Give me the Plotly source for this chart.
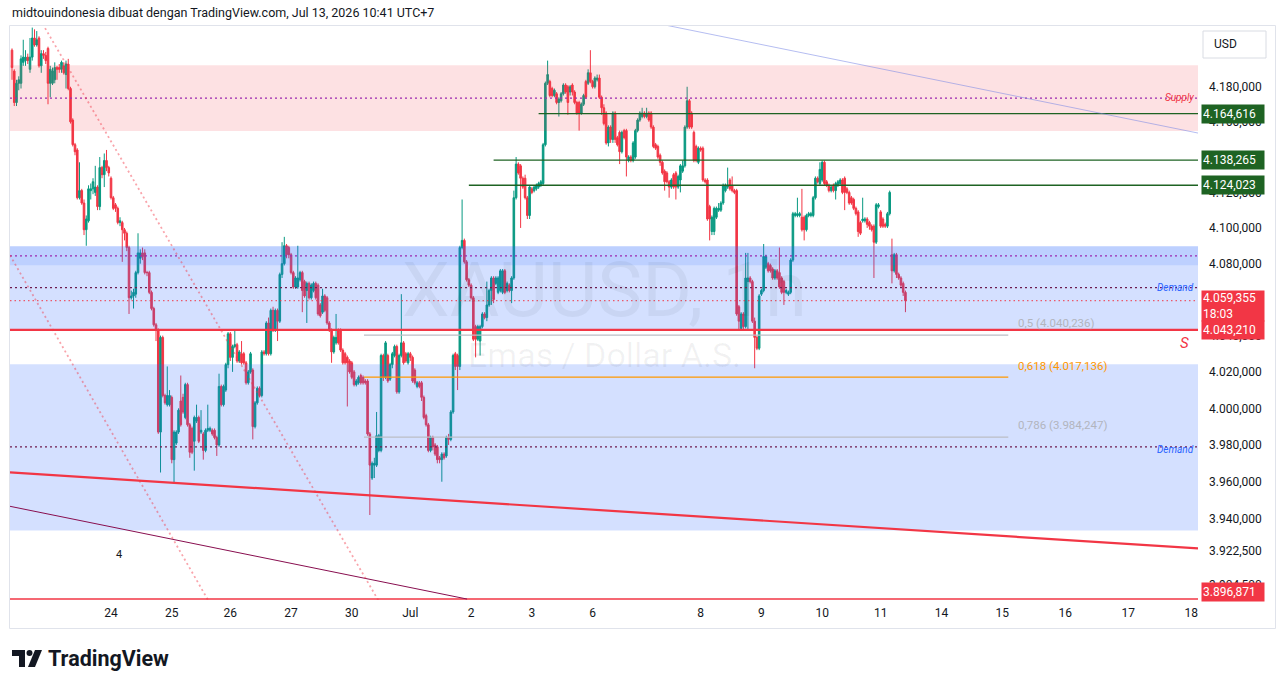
import math
import plotly.graph_objects as go

# ---------------- data ----------------
open_ = [4201,4189,4171,4182,4182,4194,4195,4197,4190,4197,4208,4204,4208,4192,4199,4198,
4202,4182,4182,4184,4191,4191,4190,4192,4187,4193,4179,4161,4147,4144,4117,4121,4114,4099,4104,4121,4122,
4120,4123,4112,4134,4130,4138,4134,4128,4117,4113,4111,4103,
4103,4099,4097,4089,4061,4062,4063,4075,4083,4086,4086,4075,4075,4064,4055,4046,4043,
3987,4039,4007,4002,4002,4006,3972,3981,3987,4004,4006,3995,4013,3991,3989,3982,3993,3995,3987,3986,
3977,3988,3988,3988,3988,3984,3980,4012,4002,4010,4024,4041,4028,4034,4035,4026,4030,4030,4025,4014,
4020,4021,3990,4003,4011,4007,4031,4030,4047,4030,4054,4043,4054,4048,4074,4080,4090,4089,4085,4075,
4067,4067,4071,4075,4070,4065,4069,4061,4065,4069,4068,4057,4053,4062,4061,4047,4043,4031,4036,4043,
4043,4032,4030,4028,4026,4025,4020,4013,4014,4018,4017,4015,4015,3986,3962,3969,3969,3977,3977,4029,
4017,4029,4016,4024,4029,4034,4009,4029,4036,4030,4025,4030,4028,4021,4012,4014,4014,4006,3996,3991,
3977,3984,3980,3979,3973,3972,3975,3974,3984,3983,3998,4030,4029,4023,4089,4093,4081,4071,4068,4061,
4045,4038,4037,4045,4052,4050,4057,4065,4072,4069,4064,4065,4064,4076,4065,4068,4065,4072,4117,4136,
4135,4128,4128,4117,4107,4122,4121,4122,4123,4124,4125,4147,4182,4183,4179,4175,4176,4171,4172,4176,
4181,4180,4177,4181,4177,4171,4171,4165,4170,4183,4182,4188,4183,4180,4184,4185,4174,4168,4165,4148,
4157,4150,4165,4151,4154,4143,4155,4155,4138,4140,4138,4140,4155,4161,4163,4165,4163,4165,4165,4157,
4147,4146,4141,4137,4132,4131,4126,4123,4130,4131,4123,4127,4132,4135,4157,4172,4165,4154,4146,4137,
4145,4145,4127,4127,4112,4098,4098,4106,4110,4110,4114,4121,4123,4127,4124,4121,4121,4056,4044,4052,
4045,4070,4072,4070,4048,4039,4033,4063,4065,4078,4080,4079,4077,4072,4076,4075,4072,4070,4064,4063,
4064,4082,4107,4107,4107,4106,4106,4099,4107,4107,4107,4117,4128,4125,4127,4137,4126,4124,4121,4124,
4121,4124,4125,4127,4128,4122,4120,4117,4116,4111,4109,4103,4104,4104,4105,4103,4101,4101,4092,4112,
4109,4105,4102,4101,4108,4085,4076,4085,4074,4072,4069,4064]
high_ = [4202,4190,4184,4186,4198,4207,4201,4199,4208,4214,4213,4212,4209,4201,4201,4200,
4203,4192,4191,4194,4192,4193,4195,4194,4195,4196,4180,4162,4148,4145,4137,4122,4116,4107,4124,4125,4128,
4135,4124,4140,4135,4142,4144,4135,4129,4118,4114,4112,4106,
4104,4100,4098,4090,4065,4066,4076,4097,4088,4089,4088,4076,4076,4065,4056,4047,4044,
4040,4040,4008,4023,4010,4007,3988,3988,4000,4018,4008,4014,4014,3992,3990,3996,4002,3996,3999,3987,
3989,4002,3990,3989,3989,3985,4019,4013,4013,4025,4042,4042,4035,4043,4036,4032,4037,4031,4026,4021,
4031,4022,4004,4012,4012,4032,4032,4048,4050,4055,4056,4055,4055,4075,4092,4095,4091,4090,4086,4076,
4073,4090,4076,4076,4071,4070,4070,4069,4070,4070,4069,4058,4066,4063,4062,4048,4044,4040,4052,4044,
4044,4033,4031,4029,4027,4026,4021,4016,4018,4019,4018,4016,4016,3987,3971,3973,3998,3986,4030,4030,
4037,4030,4025,4031,4035,4035,4030,4063,4037,4031,4031,4031,4029,4022,4015,4015,4015,4007,3997,3992,
3985,3985,3981,3980,3974,3976,3976,3985,3986,3999,4030,4031,4030,4090,4116,4094,4082,4072,4069,4062,
4046,4046,4046,4053,4053,4070,4066,4073,4073,4073,4073,4077,4077,4077,4070,4069,4073,4121,4140,4137,
4136,4129,4130,4118,4124,4123,4124,4125,4126,4127,4148,4183,4195,4184,4180,4179,4177,4174,4177,4182,
4182,4181,4181,4182,4178,4172,4172,4171,4176,4184,4190,4201,4184,4186,4187,4187,4175,4170,4166,4158,
4158,4166,4166,4152,4155,4155,4156,4156,4141,4141,4149,4156,4162,4166,4168,4166,4168,4166,4166,4158,
4148,4147,4142,4138,4133,4132,4127,4128,4131,4132,4130,4136,4138,4158,4180,4173,4166,4155,4147,4146,
4146,4146,4128,4128,4113,4107,4112,4112,4114,4115,4125,4125,4134,4128,4129,4122,4122,4057,4053,4053,
4086,4086,4073,4071,4050,4040,4063,4066,4091,4085,4081,4080,4078,4077,4077,4089,4073,4071,4066,4065,
4083,4109,4109,4117,4109,4122,4107,4108,4109,4109,4118,4129,4129,4137,4138,4138,4127,4125,4124,4125,
4126,4127,4128,4128,4129,4123,4121,4118,4117,4112,4110,4104,4117,4106,4106,4104,4102,4102,4114,4114,
4110,4106,4103,4109,4121,4094,4086,4086,4075,4073,4070,4065]
low_ = [4184,4169,4169,4178,4179,4192,4192,4193,4188,4195,4203,4203,4191,4188,4196,4193,
4170,4174,4181,4182,4184,4188,4188,4187,4179,4178,4159,4146,4141,4116,4116,4113,4096,4090,4103,4116,4119,
4118,4110,4110,4128,4123,4132,4129,4116,4110,4109,4102,4101,
4081,4093,4087,4052,4060,4055,4061,4074,4080,4082,4074,4073,4063,4054,4045,4037,3986,
3965,4006,4002,4001,4001,3970,3959,3980,3986,3990,3997,3994,3990,3973,3975,3966,3992,3981,3986,3972,
3976,3987,3987,3985,3983,3974,3979,4001,4001,4009,4022,4026,4020,4033,4025,4025,4024,4024,4013,4013,
4019,3983,3989,4002,4006,4006,4029,4029,4029,4029,4042,4042,4037,4047,4072,4079,4083,4083,4074,4066,
4066,4066,4070,4053,4061,4047,4060,4060,4064,4060,4051,4050,4052,4053,4046,4042,4025,4030,4035,4035,
4031,4024,4024,4001,4019,4016,4012,4012,4013,4013,4013,4013,3985,3942,3961,3962,3968,3976,3976,4015,
4016,4014,4015,4022,4028,4008,4008,4028,4024,4025,4024,4026,4014,4013,4011,4011,4004,3994,3990,3976,
3976,3977,3974,3970,3970,3960,3972,3973,3980,3982,3997,4021,4010,4021,4088,4080,4070,4067,4060,4037,
4028,4037,4029,4044,4049,4048,4056,4057,4058,4068,4063,4064,4063,4063,4064,4064,4058,4071,4116,4130,
4100,4122,4116,4105,4105,4119,4120,4121,4122,4123,4124,4146,4181,4174,4174,4174,4170,4163,4171,4175,
4176,4164,4175,4175,4170,4164,4155,4164,4169,4173,4181,4182,4179,4179,4183,4173,4164,4158,4147,4146,
4148,4148,4148,4146,4136,4142,4150,4129,4137,4137,4137,4139,4154,4160,4162,4162,4162,4160,4156,4145,
4144,4139,4135,4130,4121,4125,4117,4122,4122,4116,4122,4120,4131,4134,4156,4156,4156,4137,4137,4136,
4143,4126,4125,4104,4093,4096,4096,4105,4109,4109,4113,4120,4122,4121,4120,4119,4051,4043,4043,4043,
4044,4043,4069,4047,4022,4032,4032,4062,4064,4077,4075,4075,4071,4071,4071,4066,4063,4057,4063,4062,
4063,4081,4106,4106,4106,4098,4093,4098,4106,4106,4106,4116,4125,4124,4126,4124,4123,4120,4120,4120,
4116,4123,4124,4119,4110,4119,4113,4113,4110,4107,4095,4096,4103,4103,4100,4099,4098,4072,4091,4111,
4100,4100,4100,4100,4107,4069,4075,4072,4071,4067,4062,4053]
close_ = [4191,4171,4182,4184,4196,4197,4197,4195,4197,4208,4204,4207,4192,4199,4198,4195,
4182,4190,4189,4191,4190,4190,4194,4188,4193,4179,4160,4147,4143,4117,4121,4114,4099,4105,4122,4122,4126,
4123,4112,4134,4130,4138,4134,4131,4117,4111,4111,4103,4104,
4099,4097,4089,4061,4062,4064,4075,4086,4086,4084,4075,4075,4064,4055,4046,4043,3987,
4039,4007,4003,4007,4007,3972,3987,3987,3999,3991,3998,4013,3991,3976,3976,3995,3995,3982,3988,3977,
3988,3989,3989,3986,3984,3980,4012,4002,4012,4024,4041,4028,4034,4035,4026,4031,4025,4025,4014,4020,
4030,3990,4003,4011,4007,4031,4030,4047,4030,4054,4043,4054,4048,4074,4080,4090,4085,4085,4075,4067,
4072,4072,4075,4065,4062,4069,4061,4068,4069,4061,4052,4051,4062,4054,4047,4043,4031,4039,4039,4036,
4032,4025,4025,4025,4020,4017,4013,4015,4017,4014,4014,4014,3986,3969,3970,3970,3985,3985,4029,4017,
4036,4015,4024,4030,4034,4009,4029,4036,4025,4026,4030,4028,4015,4014,4014,4012,4006,3995,3991,3977,
3984,3979,3975,3972,3972,3975,3973,3984,3983,3998,4029,4023,4023,4089,4093,4081,4071,4068,4061,4038,
4038,4045,4045,4052,4050,4057,4065,4072,4060,4072,4072,4076,4076,4064,4069,4065,4072,4117,4136,4131,
4128,4123,4117,4107,4123,4120,4123,4124,4125,4126,4147,4182,4187,4175,4175,4178,4171,4173,4176,4181,
4177,4171,4180,4177,4171,4165,4165,4170,4175,4174,4188,4183,4180,4185,4185,4174,4168,4159,4148,4157,
4150,4165,4150,4147,4143,4154,4151,4140,4140,4138,4148,4155,4161,4165,4165,4163,4165,4161,4157,4146,
4145,4140,4137,4131,4126,4126,4123,4127,4123,4123,4129,4135,4135,4157,4172,4157,4157,4138,4138,4145,
4144,4127,4126,4105,4105,4106,4111,4111,4111,4114,4124,4124,4124,4122,4121,4120,4052,4048,4052,4045,
4072,4072,4070,4048,4039,4033,4062,4065,4084,4084,4076,4076,4072,4076,4072,4067,4064,4064,4065,4064,
4082,4108,4108,4108,4108,4099,4099,4107,4108,4108,4117,4128,4126,4133,4137,4125,4124,4121,4123,4121,
4125,4126,4127,4120,4120,4120,4114,4114,4111,4108,4098,4097,4105,4105,4102,4101,4099,4092,4113,4113,
4101,4101,4101,4108,4120,4076,4085,4074,4072,4068,4064,4059.355]

day_labels = ["24", "25", "26", "27", "30", "Jul", "2", "3", "6", "8", "9", "10", "11",
              "14", "15", "16", "17", "18"]
day_start = [44, 71, 97, 124, 151, 177, 204, 231, 258, 306, 333, 360, 386, 413, 440, 468, 496, 524]

price_ticks = [4180, 4160, 4140, 4120, 4100, 4080, 4060, 4040, 4020, 4000, 3980, 3960, 3940, 3922.5, 3904.5]

supply_zone = (4154.7, 4192.4)
demand_small = (4079.1, 4089.7)
demand_upper = (4043.6, 4089.7)
demand_lower = (3933.7, 4024.2)
resist_levels = [4164.616, 4138.265, 4124.023]
resist_start = [234, 214, 203]
sr_level = 4043.210
low_level = 3896.871
fib_ratio = ["0,5", "0,618", "0,786"]
fib_price = [4040.236, 4017.136, 3984.247]
fib_span = (156.4, 442.7)

# ---------------- geometry / style ----------------
W, H = 1281, 688
PL, PR, PT, PB = 10, 1198, 25, 600
X_RANGE = [-0.889, 527.0]
Y_MIN, Y_MAX = 3896.4, 4215.5
UP, DOWN = "#089981", "#F23645"
TXT = "#131722"
FONT = "Roboto"


def xp(px):
    return (px - PL) / (PR - PL)


def yp(py):
    return (PB - py) / (PB - PT)


def fmt(v):
    s = f"{v:,.3f}"
    return s.replace(",", "X").replace(".", ",").replace("X", ".")


fig = go.Figure()
fig.add_trace(go.Candlestick(
    x=list(range(len(close_))), open=open_, high=high_, low=low_, close=close_,
    increasing=dict(line=dict(color=UP, width=1), fillcolor=UP),
    decreasing=dict(line=dict(color=DOWN, width=1), fillcolor=DOWN),
    whiskerwidth=0, hoverinfo="skip", showlegend=False,
))

shapes = []
DOTS = "2px,3px"


def hline(y, color, width=1, dash="solid", x0=None, x1=None, layer="above"):
    if x0 is None:
        shapes.append(dict(type="line", xref="paper", yref="y", x0=0, x1=1, y0=y, y1=y,
                           line=dict(color=color, width=width, dash=dash), layer=layer))
    else:
        shapes.append(dict(type="line", xref="x", yref="y", x0=x0, x1=x1, y0=y, y1=y,
                           line=dict(color=color, width=width, dash=dash), layer=layer))


def zone(lo, hi, color):
    shapes.append(dict(type="rect", xref="paper", yref="y", x0=0, x1=1, y0=lo, y1=hi,
                       fillcolor=color, line=dict(width=0), layer="above"))


zone(*supply_zone, "rgba(242,54,69,0.15)")
zone(*demand_small, "rgba(41,98,255,0.13)")
zone(*demand_upper, "rgba(41,98,255,0.2)")
zone(*demand_lower, "rgba(41,98,255,0.2)")

hline(sum(supply_zone) / 2, "#9C27B0", 1.3, DOTS)
hline(sum(demand_small) / 2, "#9C27B0", 1.3, DOTS)
hline(sum(demand_upper) / 2, "#6E1A4F", 1.3, DOTS)
hline(sum(demand_lower) / 2, "#6E1A4F", 1.3, DOTS)
hline(close_[-1], DOWN, 1, "1.5px,3px")
hline(sr_level, DOWN, 2.2)
hline(low_level, DOWN, 1.5)
for lv, st in zip(resist_levels, resist_start):
    hline(lv, "#1E6323", 1.3, x0=st, x1=X_RANGE[1])
fib_cols = ["#BBBEC6", "#FF9800", "#BBBEC6"]
for fpr, fc in zip(fib_price, fib_cols):
    hline(fpr, fc, 1.2, x0=fib_span[0], x1=fib_span[1])


def seg(x0, y0, x1, y1, color, width, dash="solid"):
    shapes.append(dict(type="line", xref="x", yref="y", x0=x0, y0=y0, x1=x1, y1=y1,
                       line=dict(color=color, width=width, dash=dash), layer="above"))


seg(X_RANGE[0], 3965.1, X_RANGE[1], 3924.0, DOWN, 2.2)
seg(X_RANGE[0], 3946.7, 202.2, 3896.9, "#880E4F", 1)
seg(290.2, 4215.5, X_RANGE[1], 4153.6, "rgba(120,134,230,0.55)", 1)
seg(14.7, 4213.7, 162.7, 3896.4, "rgba(242,54,69,0.45)", 1.8, DOTS)
seg(X_RANGE[0], 4084.7, 87.1, 3896.4, "rgba(242,54,69,0.45)", 1.8, DOTS)

# frame lines
FR = "#E0E3EB"
for (a, b, c, d) in [(9.5, 25.5, 1275.5, 25.5), (9.5, 628.5, 1275.5, 628.5),
                     (9.5, 25.5, 9.5, 628.5), (1275.5, 25.5, 1275.5, 628.5)]:
    shapes.append(dict(type="line", xref="paper", yref="paper", x0=xp(a), y0=yp(b), x1=xp(c), y1=yp(d),
                       line=dict(color=FR, width=1), layer="above"))
# USD box
shapes.append(dict(type="rect", xref="paper", yref="paper", x0=xp(1203), x1=xp(1266), y0=yp(58), y1=yp(31),
                   line=dict(color="#D9DCE3", width=1), fillcolor="white", layer="above"))


# TradingView logo
def pth(pts):
    return "M " + " L ".join(f"{xp(a):.5f},{yp(b):.5f}" for a, b in pts) + " Z"


shapes.append(dict(type="path", xref="paper", yref="paper",
                   path=pth([(12, 650), (25, 650), (25, 667), (19, 667), (19, 656), (12, 656)]),
                   fillcolor=TXT, line=dict(width=0), layer="above"))
shapes.append(dict(type="circle", xref="paper", yref="paper", x0=xp(26.5), x1=xp(32.5), y0=yp(656), y1=yp(650),
                   fillcolor=TXT, line=dict(width=0), layer="above"))
shapes.append(dict(type="path", xref="paper", yref="paper",
                   path=pth([(35, 650), (42, 650), (35, 667), (28, 667)]),
                   fillcolor=TXT, line=dict(width=0), layer="above"))

ann = []


def box_label(price, text, bg, yshift=0, h=16):
    ann.append(dict(xref="paper", yref="y", x=xp(1201), y=math.log10(price), xanchor="left", yanchor="middle",
                    text=text, showarrow=False, bgcolor=bg, font=dict(color="white", size=12, family=FONT),
                    align="left", width=60, height=h, borderpad=1, yshift=yshift))


for lv in resist_levels:
    box_label(lv, fmt(lv), "#1E6323")
box_label(close_[-1], fmt(close_[-1]) + "<br>18:03", DOWN, yshift=-5.5, h=28)
box_label(sr_level, fmt(sr_level), DOWN)
box_label(low_level, fmt(low_level), DOWN, yshift=7)


def text_at(xpx, ypx, text, size, color, xanchor="left", family=FONT):
    ann.append(dict(xref="paper", yref="paper", x=xp(xpx), y=yp(ypx), text=text, showarrow=False,
                    xanchor=xanchor, yanchor="middle", font=dict(size=size, color=color, family=family)))


text_at(1196, 98, "<i>Supply</i>", 10, DOWN, "right")
text_at(1196, 287, "<i>Demand</i>", 10, "#2962FF", "right")
text_at(1196, 449, "<i>Demand</i>", 10, "#2962FF", "right")
text_at(1191, 343, "<i>S</i>", 15, DOWN, "right")
for r, fpr, fc, ty in zip(fib_ratio, fib_price, fib_cols, [323, 366, 425]):
    text_at(1016, ty, f"{r} ({fmt(fpr)})", 11.5, "#FF9800" if fc == "#FF9800" else "#B2B5BE")
text_at(10, 12, "midtouindonesia dibuat dengan TradingView.com, Jul 13, 2026 10:41 UTC+7", 12.5, TXT)
text_at(46, 658, "<b>TradingView</b>", 21.5, TXT)
text_at(1212, 44, "USD", 12, TXT)
text_at(119, 554, "4", 11, TXT, "center")
# watermark
ann.append(dict(xref="paper", yref="paper", x=0.5, y=yp(290), text="XAUUSD, 1h", showarrow=False,
                font=dict(size=76, color="rgba(42,46,57,0.06)", family=FONT)))
ann.append(dict(xref="paper", yref="paper", x=0.5, y=yp(355), text="Emas / Dollar A.S.", showarrow=False,
                font=dict(size=34, color="rgba(42,46,57,0.06)", family=FONT)))

fig.update_layout(
    width=W, height=H, margin=dict(l=PL, r=W - PR, t=PT, b=H - PB),
    paper_bgcolor="white", plot_bgcolor="white", boxgap=0.3, boxgroupgap=0,
    font=dict(family=FONT, size=12, color=TXT),
    shapes=shapes, annotations=ann, showlegend=False, hovermode=False,
    xaxis=dict(range=X_RANGE, tickmode="array", tickvals=day_start, ticktext=day_labels,
               showgrid=False, zeroline=False, showline=False, ticks="", rangeslider=dict(visible=False),
               tickfont=dict(size=12, color=TXT), ticklabelstandoff=4, fixedrange=True),
    yaxis=dict(type="log", range=[math.log10(Y_MIN), math.log10(Y_MAX)], side="right",
               tickmode="array", tickvals=price_ticks, ticktext=[fmt(v) for v in price_ticks],
               showgrid=False, zeroline=False, showline=False, ticks="",
               tickfont=dict(size=12, color=TXT), ticklabelstandoff=10, fixedrange=True),
)

fig.write_html("out.html")
